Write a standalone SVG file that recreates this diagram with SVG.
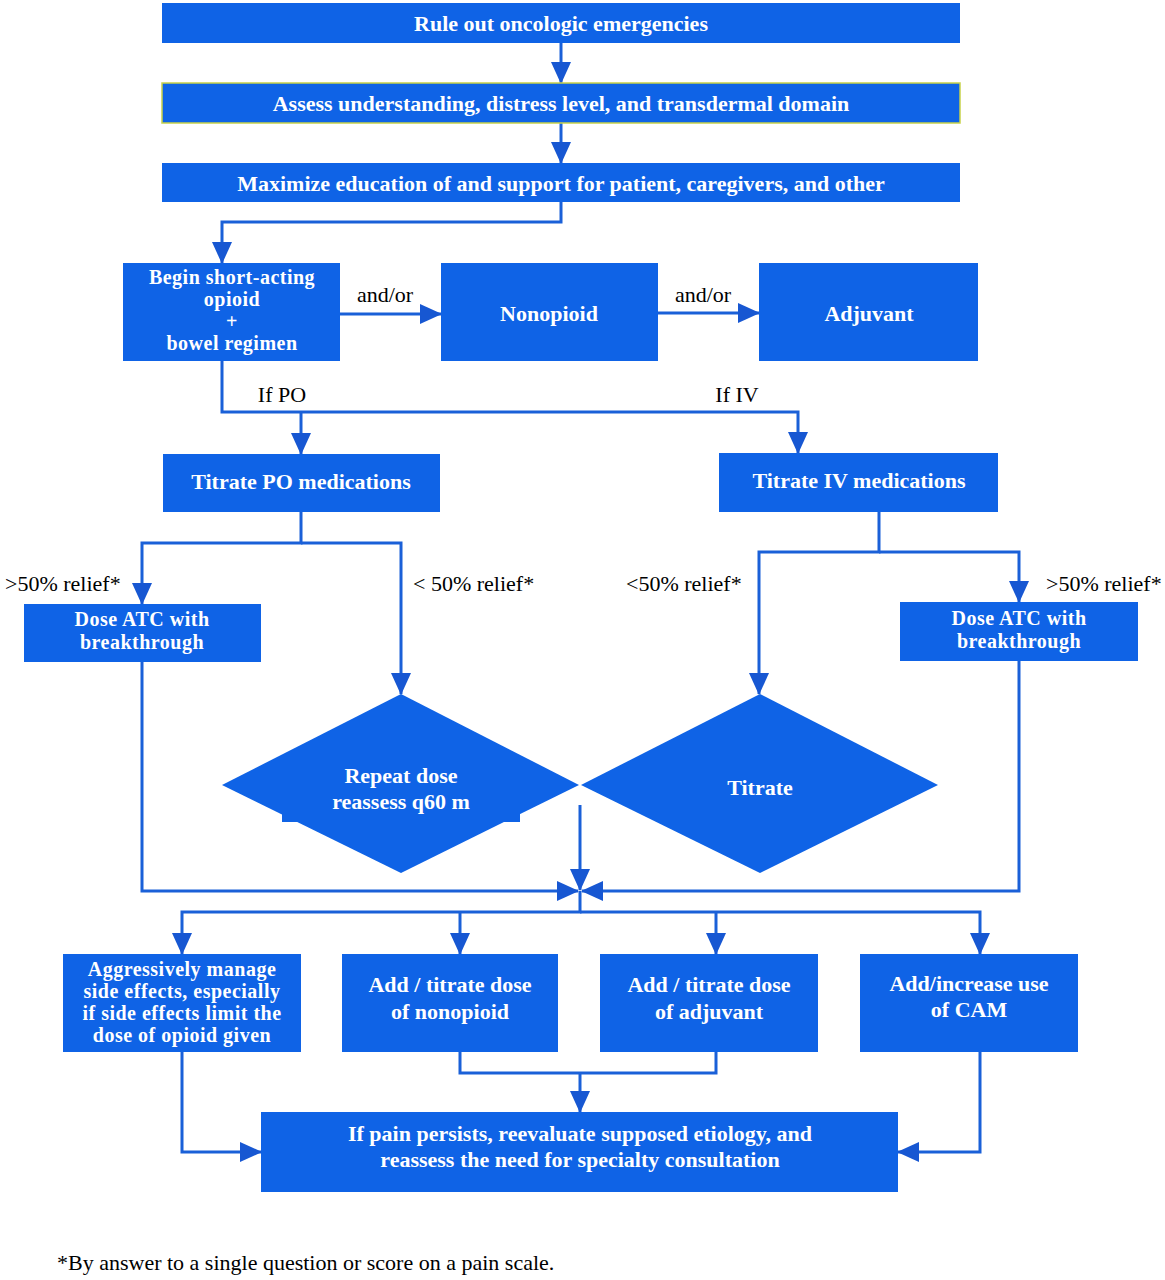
<svg xmlns="http://www.w3.org/2000/svg" width="1165" height="1280" viewBox="0 0 1165 1280">
<defs>
<style>
.box{fill:#0F63E6;}
.bt{font-family:"Liberation Serif","Times New Roman",serif;font-weight:bold;fill:#fff;text-anchor:middle;font-size:22px;}
.sm{font-size:20px;letter-spacing:0.5px;}
.lb{font-family:"Liberation Serif","Times New Roman",serif;fill:#000;font-size:22px;}
.c{fill:none;stroke:#1A60D8;stroke-width:3;}
.ca{fill:none;stroke:#1A60D8;stroke-width:3;marker-end:url(#ah);}
</style>
<marker id="ah" markerUnits="userSpaceOnUse" markerWidth="22" markerHeight="22" viewBox="0 0 22 22" refX="21" refY="11" orient="auto">
<path d="M0,1 L22,11 L0,21 z" fill="#1757D2"/>
</marker>
</defs>
<rect width="1165" height="1280" fill="#fff"/>

<g id="connectors">
<path class="ca" d="M561,43 V83"/>
<path class="ca" d="M561,123 V163"/>
<path class="ca" d="M561,202 V222 H222 V263"/>
<path class="ca" d="M340,314 H441"/>
<path class="ca" d="M658,313 H759"/>
<path class="ca" d="M222,361 V412 H798 V453"/>
<path class="ca" d="M301,412 V454"/>
<path class="ca" d="M301,512 V543 H142 V604"/>
<path class="ca" d="M301,543 H401 V694"/>
<path class="ca" d="M879,512 V552 H759 V694"/>
<path class="ca" d="M879,552 H1019 V602"/>
<path class="ca" d="M142,662 V891 H578"/>
<path class="ca" d="M1019,661 V891 H582"/>
<path class="ca" d="M580,805 V890"/>
<path class="ca" d="M580,891 V912 H182 V954"/>
<path class="ca" d="M580,912 H980 V954"/>
<path class="ca" d="M460,912 V954"/>
<path class="ca" d="M716,912 V954"/>
<path class="c" d="M460,1052 V1073 H716 V1052"/>
<path class="ca" d="M580,1073 V1112"/>
<path class="ca" d="M182,1052 V1152 H261"/>
<path class="ca" d="M980,1052 V1152 H898"/>
</g>

<g id="labels">
<text class="lb" x="385" y="302" text-anchor="middle">and/or</text>
<text class="lb" x="703" y="302" text-anchor="middle">and/or</text>
<text class="lb" x="282" y="402" text-anchor="middle">If PO</text>
<text class="lb" x="737" y="402" text-anchor="middle">If IV</text>
<text class="lb" x="5" y="591">&gt;50% relief*</text>
<text class="lb" x="413" y="591">&lt; 50% relief*</text>
<text class="lb" x="626" y="591">&lt;50% relief*</text>
<text class="lb" x="1046" y="591">&gt;50% relief*</text>
<text class="lb" x="57" y="1270" font-size="21">*By answer to a single question or score on a pain scale.</text>
</g>

<g id="n1"><rect class="box" x="162" y="3" width="798" height="40"/><text class="bt" x="561" y="31">Rule out oncologic emergencies</text></g>
<g id="n2"><rect class="box" x="162" y="83" width="798" height="40" stroke="#C8D24A" stroke-width="1.5"/><text class="bt" x="561" y="111">Assess understanding, distress level, and transdermal domain</text></g>
<g id="n3"><rect class="box" x="162" y="163" width="798" height="39"/><text class="bt" x="561" y="191">Maximize education of and support for patient, caregivers, and other</text></g>
<g id="n4"><rect class="box" x="123" y="263" width="217" height="98"/>
<text class="bt sm" x="232" y="284">Begin short-acting</text>
<text class="bt sm" x="232" y="306">opioid</text>
<text class="bt sm" x="232" y="328">+</text>
<text class="bt sm" x="232" y="350">bowel regimen</text></g>
<g id="n5"><rect class="box" x="441" y="263" width="217" height="98"/><text class="bt" x="549" y="321">Nonopioid</text></g>
<g id="n6"><rect class="box" x="759" y="263" width="219" height="98"/><text class="bt" x="869" y="321">Adjuvant</text></g>
<g id="n7"><rect class="box" x="163" y="454" width="277" height="58"/><text class="bt" x="301" y="489">Titrate PO medications</text></g>
<g id="n8"><rect class="box" x="719" y="453" width="279" height="59"/><text class="bt" x="859" y="488">Titrate IV medications</text></g>
<g id="n9"><rect class="box" x="24" y="604" width="237" height="58"/>
<text class="bt sm" x="142" y="626">Dose ATC with</text>
<text class="bt sm" x="142" y="649">breakthrough</text></g>
<g id="n10"><rect class="box" x="900" y="602" width="238" height="59"/>
<text class="bt sm" x="1019" y="625">Dose ATC with</text>
<text class="bt sm" x="1019" y="648">breakthrough</text></g>
<g id="n11"><path class="box" d="M401,694 L579,785 L401,873 L222,785 z"/><rect class="box" x="282" y="812" width="238" height="10"/>
<text class="bt" x="401" y="783">Repeat dose</text>
<text class="bt" x="401" y="809">reassess q60 m</text></g>
<g id="n12"><path class="box" d="M760,694 L938,785 L760,873 L581,785 z"/><text class="bt" x="760" y="795">Titrate</text></g>
<g id="n13"><rect class="box" x="63" y="954" width="238" height="98"/>
<text class="bt sm" x="182" y="976">Aggressively manage</text>
<text class="bt sm" x="182" y="998">side effects, especially</text>
<text class="bt sm" x="182" y="1020">if side effects limit the</text>
<text class="bt sm" x="182" y="1042">dose of opioid given</text></g>
<g id="n14"><rect class="box" x="342" y="954" width="216" height="98"/>
<text class="bt" x="450" y="992">Add / titrate dose</text>
<text class="bt" x="450" y="1019">of nonopioid</text></g>
<g id="n15"><rect class="box" x="600" y="954" width="218" height="98"/>
<text class="bt" x="709" y="992">Add / titrate dose</text>
<text class="bt" x="709" y="1019">of adjuvant</text></g>
<g id="n16"><rect class="box" x="860" y="954" width="218" height="98"/>
<text class="bt" x="969" y="991">Add/increase use</text>
<text class="bt" x="969" y="1017">of CAM</text></g>
<g id="n17"><rect class="box" x="261" y="1112" width="637" height="80"/>
<text class="bt" x="580" y="1141">If pain persists, reevaluate supposed  etiology, and</text>
<text class="bt" x="580" y="1167">reassess the need for specialty consultation</text></g>
</svg>
